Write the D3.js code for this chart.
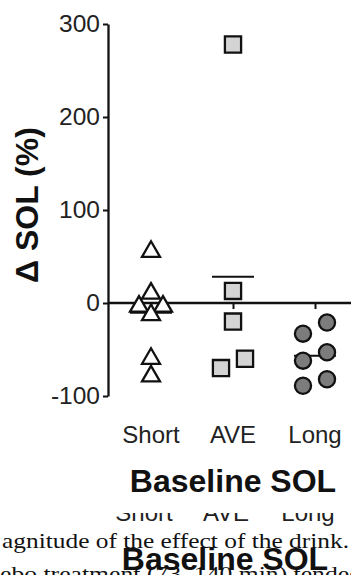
<!DOCTYPE html>
<html>
<head>
<meta charset="utf-8">
<script src="https://cdn.jsdelivr.net/npm/d3@7"></script>
<style>
  html, body { margin: 0; padding: 0; background: #fff; }
  svg { display: block; }
</style>
</head>
<body>
<script>
// Groups on the x axis
const categories = ['Short', 'AVE', 'Long'];
const yTicks = [-100, 0, 100, 200, 300];

// Change in SOL (%) per subject
const shortValues = [58, 13, -1, -1, -10, -57, -76];
const aveValues = [278, 13, -20, -60, -70];
const longValues = [-21, -33, -53, -62, -82, -89];

// Scatter column for each point (-1 left, 0 centre, 1 right)
const shortSlots = [0, 0, -1, 1, 0, 0, 0];
const aveSlots = [0, 0, 0, 1, -1];
const longSlots = [1, -1, 1, -1, 1, -1];

const width = 351, height = 575;
const sans = '"Liberation Sans", Arial, sans-serif';
const serif = '"Liberation Serif", "Times New Roman", serif';

const svg = d3.select('body').append('svg')
    .attr('width', width)
    .attr('height', height)
    .attr('viewBox', `0 0 ${width} ${height}`);

const y = d3.scaleLinear().domain([-100, 300]).range([396, 24]);
const x = d3.scalePoint().domain(categories).range([151, 315]);
const slot = d3.scaleLinear().domain([-1, 1]).range([-12, 12]);
const axisX = 108;

// triangles are centred on their bounding box, like Prism does
const triSize = 140;
const triShift = Math.sqrt(triSize / (Math.sqrt(3) * 3)) / 2;

const groups = [
    { name: 'Short', values: shortValues, slots: shortSlots, shape: d3.symbolTriangle, size: triSize, dy: triShift, fill: '#fff' },
    { name: 'AVE', values: aveValues, slots: aveSlots, shape: d3.symbolSquare, size: 262, dy: 0, fill: '#d4d4d4' },
    { name: 'Long', values: longValues, slots: longSlots, shape: d3.symbolCircle, size: 205, dy: 0, fill: '#7c7c7c' }
];

// y axis
const yAxis = svg.append('g')
    .attr('transform', `translate(${axisX},0)`)
    .call(d3.axisLeft(y).tickValues(yTicks).tickFormat(d => String(d))
        .tickSize(5).tickSizeOuter(0).tickPadding(3));
yAxis.select('.domain').attr('stroke', '#111').attr('stroke-width', 2.3);
yAxis.selectAll('.tick line').attr('stroke', '#111').attr('stroke-width', 2);
yAxis.selectAll('.tick text')
    .attr('font-family', sans)
    .attr('font-size', 24.5)
    .attr('fill', '#222');

// zero line with group ticks
svg.append('line')
    .attr('x1', axisX).attr('x2', width)
    .attr('y1', y(0)).attr('y2', y(0))
    .attr('stroke', '#111').attr('stroke-width', 2.3);
const xAxis = svg.append('g')
    .attr('transform', `translate(0,${y(0)})`)
    .call(d3.axisBottom(x).tickSize(6).tickFormat(''));
xAxis.select('.domain').remove();
xAxis.selectAll('.tick line').attr('stroke', '#111').attr('stroke-width', 2);

// mean lines
svg.append('g').selectAll('line')
    .data(groups)
    .join('line')
    .attr('x1', d => x(d.name) - 21)
    .attr('x2', d => x(d.name) + 21)
    .attr('y1', d => y(d3.mean(d.values)))
    .attr('y2', d => y(d3.mean(d.values)))
    .attr('stroke', '#111')
    .attr('stroke-width', 2);

// points
groups.forEach(g => {
    const sym = d3.symbol().type(g.shape).size(g.size);
    svg.append('g').selectAll('path')
        .data(g.values.map((v, i) => ({ v, s: g.slots[i] })))
        .join('path')
        .attr('d', sym)
        .attr('transform', d => `translate(${x(g.name) + slot(d.s)},${y(d.v) + g.dy})`)
        .attr('fill', g.fill)
        .attr('stroke', '#111')
        .attr('stroke-width', 2.3);
});

// category labels
svg.append('g').selectAll('text')
    .data(categories)
    .join('text')
    .attr('x', d => x(d))
    .attr('y', 443)
    .attr('text-anchor', 'middle')
    .attr('font-family', sans)
    .attr('font-size', 24)
    .attr('fill', '#222')
    .text(d => d);

// axis titles
svg.append('text')
    .attr('x', 233).attr('y', 492)
    .attr('text-anchor', 'middle')
    .attr('font-family', sans)
    .attr('font-size', 32)
    .attr('font-weight', 'bold')
    .attr('fill', '#111')
    .text('Baseline SOL');

svg.append('text')
    .attr('transform', 'translate(38,205) rotate(-90)')
    .attr('text-anchor', 'middle')
    .attr('font-family', sans)
    .attr('font-size', 32)
    .attr('font-weight', 'bold')
    .attr('fill', '#111')
    .text('Δ SOL (%)');

// page residue below the figure (clipped copy of the labels and body text)
svg.append('defs').append('clipPath').attr('id', 'lowerHalf')
    .append('rect').attr('x', 0).attr('y', 513).attr('width', width).attr('height', 14);

svg.append('g').attr('clip-path', 'url(#lowerHalf)')
    .selectAll('text')
    .data(categories)
    .join('text')
    .attr('x', d => x(d) - 7)
    .attr('y', 521)
    .attr('text-anchor', 'middle')
    .attr('font-family', sans)
    .attr('font-size', 24)
    .attr('fill', '#222')
    .text(d => d);

svg.append('text')
    .attr('x', 2).attr('y', 548)
    .attr('font-family', serif)
    .attr('font-size', 22)
    .attr('fill', '#111')
    .attr('textLength', 347)
    .attr('lengthAdjust', 'spacingAndGlyphs')
    .text('agnitude of the effect of the drink.');

svg.append('text')
    .attr('x', 0).attr('y', 581)
    .attr('font-family', serif)
    .attr('font-size', 22)
    .attr('fill', '#111')
    .attr('textLength', 362)
    .attr('lengthAdjust', 'spacingAndGlyphs')
    .text('ebo treatment (73–140 min) tended');

svg.append('text')
    .attr('x', 225).attr('y', 570)
    .attr('text-anchor', 'middle')
    .attr('font-family', sans)
    .attr('font-size', 32)
    .attr('font-weight', 'bold')
    .attr('fill', '#111')
    .text('Baseline SOL');
</script>
</body>
</html>
